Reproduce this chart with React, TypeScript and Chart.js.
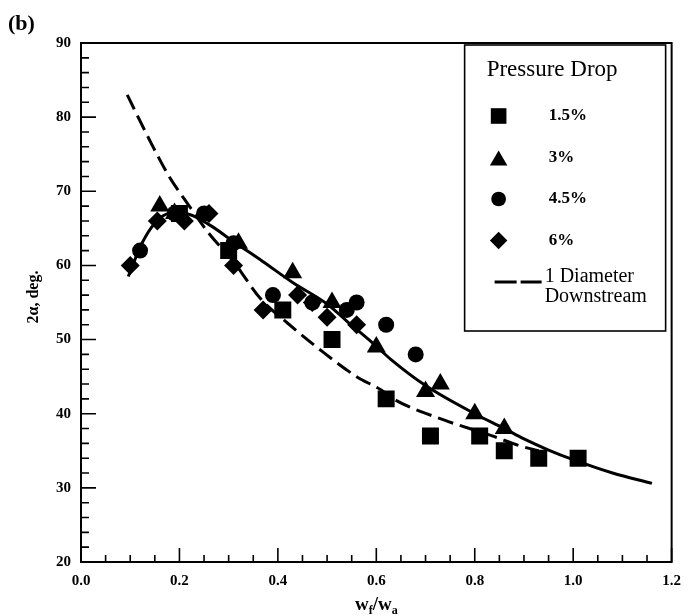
import { useEffect, useRef } from 'react';
import { Chart, registerables } from 'chart.js';
import { drawPoint } from 'chart.js/helpers';

Chart.register(...registerables);

// Axis tick labels
const xTickLabels = ['0.0', '0.2', '0.4', '0.6', '0.8', '1.0', '1.2'];
const yTickLabels = ['20', '30', '40', '50', '60', '70', '80', '90'];

// Measured cone angle 2α (deg) against w_f/w_a, one array per pressure drop
const drop15: [number, number][] = [
  [0.2, 67], [0.3, 62], [0.41, 54], [0.51, 50], [0.62, 42],
  [0.71, 37], [0.81, 37], [0.86, 35], [0.93, 34], [1.01, 34],
];
const drop3: [number, number][] = [
  [0.16, 68], [0.19, 67], [0.32, 63], [0.43, 59], [0.51, 55],
  [0.6, 49], [0.7, 43], [0.73, 44], [0.8, 40], [0.86, 38],
];
const drop45: [number, number][] = [
  [0.12, 62], [0.19, 67], [0.25, 67], [0.31, 63], [0.39, 56],
  [0.47, 55], [0.54, 54], [0.56, 55], [0.62, 52], [0.68, 48],
];
const drop6: [number, number][] = [
  [0.1, 60], [0.155, 66], [0.21, 66], [0.26, 67], [0.31, 60],
  [0.37, 54], [0.44, 56], [0.47, 55], [0.5, 53], [0.56, 52],
];

// Curve through all the measurements
const fitCurve: [number, number][] = [
  [0.096, 58.5], [0.124, 63.0], [0.15, 65.7], [0.18, 67.0], [0.21, 67.0],
  [0.26, 65.5], [0.31, 63.2], [0.37, 60.5], [0.43, 57.7], [0.5, 54.8],
  [0.54, 52.5], [0.59, 49.7], [0.63, 47.3], [0.7, 43.8], [0.8, 40.0],
  [0.86, 38.0], [0.9, 36.6], [0.95, 35.1], [1.0, 33.8], [1.08, 32.0], [1.16, 30.6],
];
// Cone angle one diameter downstream
const downstreamCurve: [number, number][] = [
  [0.094, 83.0], [0.144, 76.3], [0.179, 72.0], [0.22, 68.0], [0.26, 64.3],
  [0.31, 60.5], [0.365, 55.5], [0.42, 52.2], [0.49, 48.4], [0.56, 45.0],
  [0.61, 43.2], [0.64, 41.8], [0.74, 39.1], [0.84, 36.9], [0.89, 35.7], [0.93, 35.0],
];

const legendTitle = 'Pressure Drop';
const seriesLabels = ['1.5%', '3%', '4.5%', '6%'];
const downstreamLabel = ['1 Diameter', 'Downstream'];

const SERIF = '"Liberation Serif", "Times New Roman", serif';
const DASH = [16, 7];

const markers = [
  { data: drop15, style: 'rect', radius: 12 },
  { data: drop3, style: 'triangle', radius: 11 },
  { data: drop45, style: 'circle', radius: 8 },
  { data: drop6, style: 'rectRot', radius: 9.5 },
];

const toPoints = (arr: [number, number][]) => arr.map(([x, y]) => ({ x, y }));

const frameTicks = {
  id: 'frameTicks',
  beforeDatasetsDraw(chart: any) {
    const { ctx, chartArea: a, scales } = chart;
    const x = scales.x;
    const y = scales.y;
    ctx.save();
    ctx.strokeStyle = '#000';
    ctx.lineWidth = 2;
    ctx.strokeRect(a.left, a.top, a.right - a.left, a.bottom - a.top);
    ctx.lineWidth = 1.6;
    ctx.beginPath();
    for (let k = 0; k <= 24; k++) {
      const px = x.getPixelForValue(k * 0.05);
      const len = k % 4 === 0 ? 14 : 7;
      ctx.moveTo(px, a.bottom);
      ctx.lineTo(px, a.bottom - len);
    }
    for (let k = 0; k <= 35; k++) {
      const py = y.getPixelForValue(20 + k * 2);
      const len = k % 5 === 0 ? 15 : 8;
      ctx.moveTo(a.left, py);
      ctx.lineTo(a.left + len, py);
    }
    ctx.stroke();
    ctx.restore();
  },
};

const annotations = {
  id: 'annotations',
  afterDraw(chart: any) {
    const { ctx, chartArea: a } = chart;
    ctx.save();
    ctx.fillStyle = '#000';
    ctx.strokeStyle = '#000';
    ctx.textBaseline = 'middle';

    // Panel tag
    ctx.font = `bold 22px ${SERIF}`;
    ctx.textAlign = 'left';
    ctx.fillText('(b)', 8, 24);

    // y-axis title
    ctx.save();
    ctx.translate(a.left - 47, 297);
    ctx.rotate(-Math.PI / 2);
    ctx.textAlign = 'center';
    ctx.font = `bold 16px ${SERIF}`;
    ctx.fillText('2α, deg.', 0, 0);
    ctx.restore();

    // x-axis title: w_f / w_a
    const big = `bold 19px ${SERIF}`;
    const small = `bold 12px ${SERIF}`;
    const parts: [string, string, number][] = [
      ['w', big, 0], ['f', small, 4], ['/w', big, 0], ['a', small, 4],
    ];
    let total = 0;
    parts.forEach(([t, f]) => { ctx.font = f; total += ctx.measureText(t).width; });
    let cx = (a.left + a.right) / 2 - total / 2;
    ctx.textAlign = 'left';
    ctx.textBaseline = 'alphabetic';
    parts.forEach(([t, f, dy]) => {
      ctx.font = f;
      ctx.fillText(t, cx, 610 + dy);
      cx += ctx.measureText(t).width;
    });

    // Legend box
    const left = a.right - 207;
    const top = a.top + 2;
    ctx.lineWidth = 1.6;
    ctx.strokeRect(left, top, 201, 286);
    ctx.textBaseline = 'middle';
    ctx.font = `23px ${SERIF}`;
    ctx.fillText(legendTitle, left + 22, top + 25);
    markers.forEach((m, i) => {
      const yy = top + 71 + i * 41.5;
      const off = m.style === 'triangle' ? 3 : 0;
      drawPoint(ctx, { pointStyle: m.style, radius: m.radius * 0.92, rotation: 0, borderWidth: 0 } as any, left + 34, yy + off);
      ctx.font = `bold 17px ${SERIF}`;
      ctx.fillText(seriesLabels[i], left + 84, yy);
    });
    const dy = top + 237;
    ctx.lineWidth = 3;
    ctx.setLineDash([22, 4]);
    ctx.beginPath();
    ctx.moveTo(left + 30, dy);
    ctx.lineTo(left + 77, dy);
    ctx.stroke();
    ctx.setLineDash([]);
    ctx.font = `20px ${SERIF}`;
    ctx.fillText(downstreamLabel[0], left + 80, top + 232);
    ctx.fillText(downstreamLabel[1], left + 80, top + 252);
    ctx.restore();
  },
};

export default function App() {
  const ref = useRef<HTMLCanvasElement | null>(null);

  useEffect(() => {
    if (!ref.current) return;
    const markerSets = markers.map((m, i) => ({
      label: seriesLabels[i],
      data: toPoints(m.data),
      pointStyle: m.style,
      pointRadius: m.radius,
      pointBackgroundColor: '#000',
      pointBorderColor: '#000',
      pointBorderWidth: 0,
      showLine: false,
      order: 0,
    }));
    const chart = new Chart(ref.current, {
      type: 'scatter',
      data: {
        datasets: [
          ...markerSets,
          {
            label: 'fit',
            data: toPoints(fitCurve),
            showLine: true,
            borderColor: '#000',
            borderWidth: 3,
            pointRadius: 0,
            cubicInterpolationMode: 'monotone',
            order: 1,
          },
          {
            label: downstreamLabel.join(' '),
            data: toPoints(downstreamCurve),
            showLine: true,
            borderColor: '#000',
            borderWidth: 3,
            borderDash: DASH,
            pointRadius: 0,
            cubicInterpolationMode: 'monotone',
            order: 1,
          },
        ] as any,
      },
      options: {
        responsive: false,
        animation: false,
        layout: { padding: { top: 43, right: 16, left: 0, bottom: 0 } },
        plugins: {
          legend: { display: false },
          tooltip: { enabled: false },
        },
        scales: {
          x: {
            type: 'linear',
            min: 0,
            max: 1.2,
            afterFit: (s: any) => { s.height = 54; },
            border: { display: false },
            grid: { display: false, drawTicks: false },
            ticks: {
              stepSize: 0.2,
              padding: 10,
              color: '#000',
              autoSkip: false,
              maxRotation: 0,
              font: { family: SERIF, size: 15, weight: 'bold' },
              callback: (_v: any, i: number) => xTickLabels[i],
            },
          },
          y: {
            type: 'linear',
            min: 20,
            max: 90,
            afterFit: (s: any) => { s.width = 81; },
            border: { display: false },
            grid: { display: false, drawTicks: false },
            ticks: {
              stepSize: 10,
              padding: 10,
              color: '#000',
              font: { family: SERIF, size: 15, weight: 'bold' },
              callback: (_v: any, i: number) => yTickLabels[i],
            },
          },
        },
      } as any,
      plugins: [frameTicks, annotations],
    });
    return () => chart.destroy();
  }, []);

  return (
    <canvas
      ref={ref}
      width={691}
      height={616}
      style={{ position: 'absolute', left: 0, top: 0, width: 691, height: 616 }}
    />
  );
}
